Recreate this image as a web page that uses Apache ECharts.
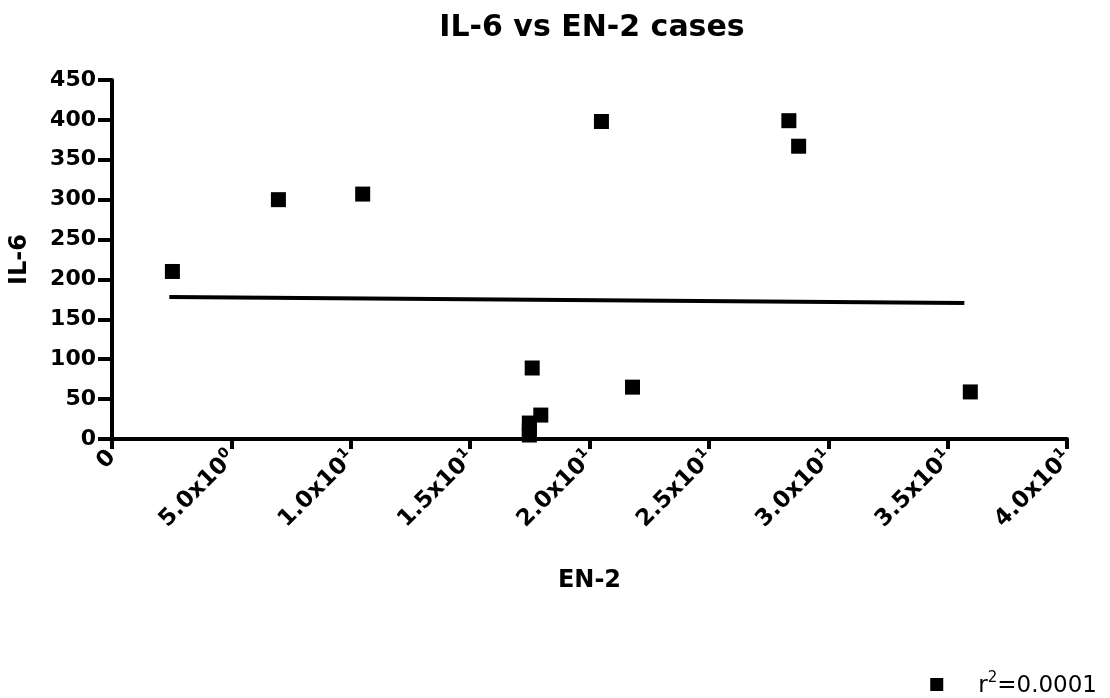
<!DOCTYPE html>
<html>
<head>
<meta charset="utf-8">
<title>IL-6 vs EN-2 cases</title>
<script src="https://cdn.jsdelivr.net/npm/echarts@6/dist/echarts.min.js"></script>
<style>
  html, body { margin: 0; padding: 0; background: #fff; }
  #chart { width: 1110px; height: 698px; }
</style>
</head>
<body>
<div id="chart"></div>
<script>
// EN-2 (x) and IL-6 (y) for each case
const en2Values = [2.53, 6.97, 10.5, 20.5, 28.35, 28.76, 35.95, 17.6, 21.8, 17.96, 17.48, 17.48, 17.48];
const il6Values = [210, 300, 307, 398, 399, 367, 59, 89, 65, 30, 20, 11, 5];

// Linear fit endpoints (EN-2, IL-6)
const fitX = [2.4, 35.7];
const fitY = [178, 170.5];

// Tick labels on the EN-2 axis: mantissa and exponent
const xTickValues = [0, 5, 10, 15, 20, 25, 30, 35, 40];
const xTickMantissa = ['0', '5.0', '1.0', '1.5', '2.0', '2.5', '3.0', '3.5', '4.0'];
const xTickExponent = ['', '0', '1', '1', '1', '1', '1', '1', '1'];

const FONT = '"DejaVu Sans", Verdana, sans-serif';

const points = en2Values.map((x, i) => [x, il6Values[i]]);
const fitLine = fitX.map((x, i) => [x, fitY[i]]);

const chart = echarts.init(document.getElementById('chart'), null, { renderer: 'canvas' });

chart.setOption({
  backgroundColor: '#ffffff',
  animation: false,
  title: {
    text: 'IL-6 vs EN-2 cases',
    left: 587,
    textAlign: 'center',
    top: 8,
    textStyle: { fontFamily: FONT, fontWeight: 'bold', fontSize: 30, color: '#000' }
  },
  legend: {
    right: 8,
    top: 666,
    data: [{ name: 'fit', icon: 'rect' }],
    itemWidth: 13,
    itemHeight: 13,
    formatter: () => '{t|r}{s|2}{t|=0.0001}',
    textStyle: {
      fontFamily: FONT,
      color: '#000',
      padding: [0, 0, 0, 30],
      rich: {
        t: { fontFamily: FONT, fontSize: 23, color: '#000', verticalAlign: 'bottom' },
        s: { fontFamily: FONT, fontSize: 15, color: '#000', verticalAlign: 'top', padding: [0, 0, 12, 0] }
      }
    }
  },
  grid: { left: 111, right: 43, top: 80, bottom: 259, containLabel: false },
  xAxis: {
    type: 'value',
    min: 0,
    max: 40,
    interval: 5,
    name: 'EN-2',
    nameLocation: 'middle',
    nameGap: 130,
    nameTextStyle: { fontFamily: FONT, fontWeight: 'bold', fontSize: 24, color: '#000' },
    splitLine: { show: false },
    axisLine: { show: true, onZero: false, lineStyle: { color: '#000', width: 4 } },
    axisTick: { show: true, length: 10, lineStyle: { color: '#000', width: 4 } },
    axisLabel: {
      rotate: 45,
      margin: 15,
      color: '#000',
      fontFamily: FONT,
      fontWeight: 'bold',
      fontSize: 23,
      formatter: (v) => {
        const i = xTickValues.indexOf(v);
        if (i < 0) return '';
        if (!xTickExponent[i]) return '{m|' + xTickMantissa[i] + '}';
        return '{m|' + xTickMantissa[i] + 'x10}{e|' + xTickExponent[i] + '}';
      },
      rich: {
        m: { fontFamily: FONT, fontWeight: 'bold', fontSize: 23, color: '#000', verticalAlign: 'bottom' },
        e: { fontFamily: FONT, fontWeight: 'bold', fontSize: 14, color: '#000', verticalAlign: 'top', padding: [0, 0, 11, 0] }
      }
    }
  },
  yAxis: {
    type: 'value',
    min: 0,
    max: 450,
    interval: 50,
    name: 'IL-6',
    nameLocation: 'middle',
    nameRotate: 90,
    nameGap: 80,
    nameTextStyle: { fontFamily: FONT, fontWeight: 'bold', fontSize: 24, color: '#000' },
    splitLine: { show: false },
    axisLine: { show: true, onZero: false, lineStyle: { color: '#000', width: 4 } },
    axisTick: { show: true, length: 14, lineStyle: { color: '#000', width: 4 } },
    axisLabel: {
      margin: 16,
      color: '#000',
      fontFamily: FONT,
      fontWeight: 'bold',
      fontSize: 22
    }
  },
  series: [
    {
      name: 'cases',
      type: 'scatter',
      symbol: 'rect',
      symbolSize: 15,
      itemStyle: { color: '#000', opacity: 1 },
      data: points,
      z: 3
    },
    {
      name: 'fit',
      type: 'line',
      showSymbol: false,
      symbol: 'rect',
      itemStyle: { color: '#000', opacity: 1 },
      lineStyle: { color: '#000', width: 4 },
      data: fitLine,
      z: 2
    }
  ]
});
</script>
</body>
</html>
